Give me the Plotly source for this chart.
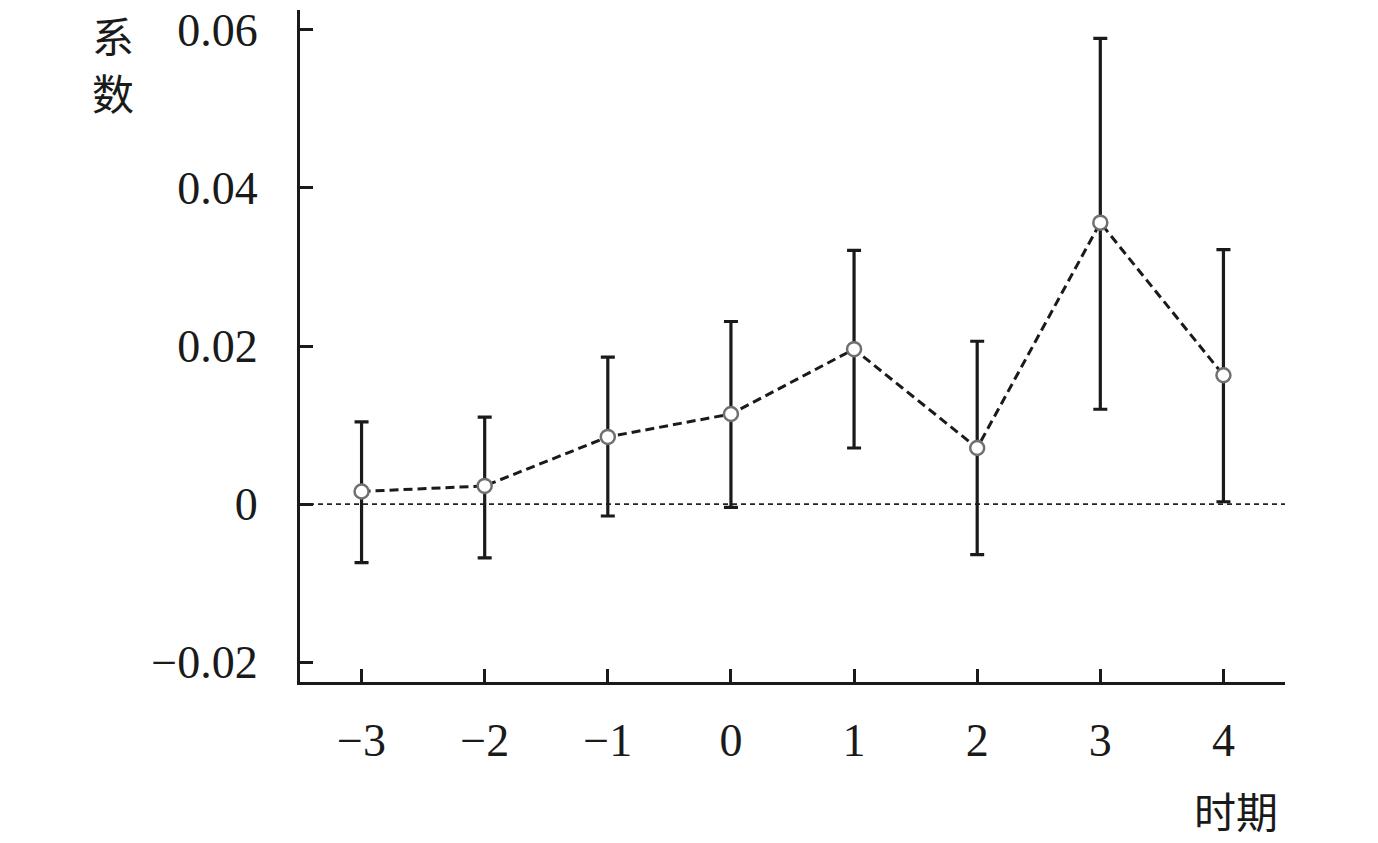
import plotly.graph_objects as go

# event-study coefficients
periods = [-3, -2, -1, 0, 1, 2, 3, 4]
coef = [0.0016, 0.0023, 0.0085, 0.0114, 0.0196, 0.0071, 0.0356, 0.0163]
ci_upper = [0.0104, 0.0110, 0.0186, 0.0231, 0.0321, 0.0206, 0.0589, 0.0322]
ci_lower = [-0.0074, -0.0068, -0.0015, -0.0004, 0.0071, -0.0064, 0.0120, 0.0003]

y_ticks = [-0.02, 0, 0.02, 0.04, 0.06]
y_ticktext = ["\u22120.02", "0", "0.02", "0.04", "0.06"]
x_ticktext = ["\u22123", "\u22122", "\u22121", "0", "1", "2", "3", "4"]

err_plus = [u - c for u, c in zip(ci_upper, coef)]
err_minus = [c - l for c, l in zip(coef, ci_lower)]

serif = "Liberation Serif, Times New Roman, serif"
cjk = "Noto Sans CJK SC, sans-serif"

fig = go.Figure()

# zero reference line
fig.add_shape(type="line", xref="paper", x0=0, x1=1, yref="y", y0=0, y1=0,
              line=dict(color="#222", width=1.8, dash="5px,4px"), layer="below")

fig.add_trace(go.Scatter(
    x=periods, y=coef,
    mode="lines+markers",
    line=dict(color="#1a1a1a", width=3, dash="9px,5px"),
    marker=dict(symbol="circle", size=14, color="white",
                line=dict(color="#707070", width=2.5)),
    error_y=dict(type="data", symmetric=False, array=err_plus, arrayminus=err_minus,
                 color="#1a1a1a", thickness=3.2, width=7),
    showlegend=False,
))

fig.update_xaxes(
    range=[-3.5, 4.5], tickvals=periods, ticktext=x_ticktext,
    showline=True, linecolor="#1a1a1a", linewidth=3, mirror=False,
    ticks="inside", ticklen=13, tickwidth=3, tickcolor="#1a1a1a",
    showgrid=False, zeroline=False, ticklabelstandoff=16,
    tickfont=dict(family=serif, size=46, color="#1a1a1a"),
)
fig.update_yaxes(
    range=[-0.0225, 0.0625], tickvals=y_ticks, ticktext=y_ticktext,
    showline=True, linecolor="#1a1a1a", linewidth=3, mirror=False,
    ticks="inside", ticklen=13, tickwidth=3, tickcolor="#1a1a1a",
    showgrid=False, zeroline=False, ticklabelstandoff=30,
    tickfont=dict(family=serif, size=46, color="#1a1a1a"),
)

# vertical y title, one character per annotation
fig.add_annotation(text="系", xref="paper", yref="paper", x=-0.19, y=0.964,
                   xanchor="center", yanchor="middle", showarrow=False, borderpad=0,
                   font=dict(family=cjk, size=42, color="#1a1a1a"))
fig.add_annotation(text="数", xref="paper", yref="paper", x=-0.19, y=0.879,
                   xanchor="center", yanchor="middle", showarrow=False, borderpad=0,
                   font=dict(family=cjk, size=42, color="#1a1a1a"))
fig.add_annotation(text="时期", xref="paper", yref="paper", x=0.95, y=-0.19,
                   xanchor="center", yanchor="middle", showarrow=False, borderpad=0,
                   font=dict(family=cjk, size=42, color="#1a1a1a"))

fig.update_layout(
    width=1378, height=843,
    margin=dict(l=300, r=93, t=5, b=161),
    plot_bgcolor="white", paper_bgcolor="white",
)

fig.write_html("out.html", config={"displayModeBar": False},
               post_script="document.body.style.margin='0';")
